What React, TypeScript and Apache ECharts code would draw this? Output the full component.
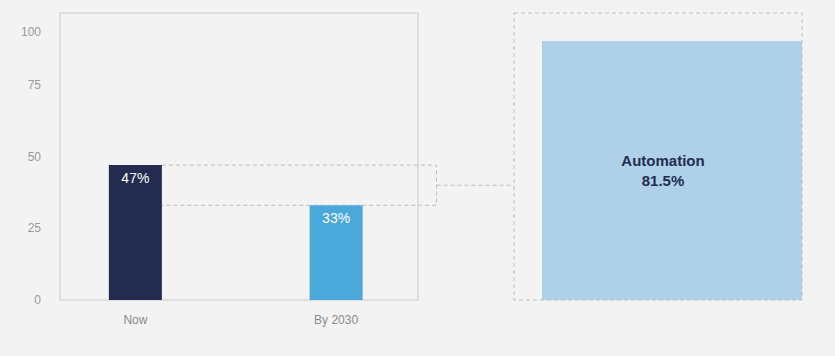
import React, { useEffect, useRef } from "react";
import * as echarts from "echarts";

const categories = ["Now", "By 2030"];
const values = [47, 33];
const barColors = ["#232b50", "#4aa8db"];
const yTicks = [0, 25, 50, 75, 100];
const shareLabel = "Automation";
const shareValue = [81.5];

const FONT = "'Helvetica Neue', Helvetica, 'Liberation Sans', Arial, sans-serif";
const DASH = "#bdbdbd";

export default function App() {
  const ref = useRef<HTMLDivElement>(null);
  useEffect(() => {
    if (!ref.current) return;
    const chart = echarts.init(ref.current, null, { renderer: "svg" });
    const BAR_W = 53;
    const connectorGap = 514 - 436.5;
    chart.setOption({
      animation: false,
      backgroundColor: "#f3f3f3",
      textStyle: { fontFamily: FONT },
      grid: [
        { show: true, left: 60, top: 13, width: 358, height: 287, borderColor: "#c9c9c9", borderWidth: 1, backgroundColor: "transparent" },
        { left: 35, top: 13, width: 401.5, height: 287 },
        { left: 514, top: 13, width: 288, height: 287 },
      ],
      xAxis: [
        { gridIndex: 0, type: "value", min: 0, max: 1, show: false },
        {
          gridIndex: 1,
          type: "category",
          data: categories,
          axisLine: { show: false },
          axisTick: { show: false },
          axisLabel: { color: "#8a8a8a", fontSize: 12, margin: 14 },
        },
        { gridIndex: 2, type: "value", min: 0, max: 1, show: false },
      ],
      yAxis: [
        {
          gridIndex: 0,
          type: "value",
          min: yTicks[0],
          max: yTicks[yTicks.length - 1],
          interval: 25,
          splitLine: { show: false },
          axisLine: { show: false },
          axisTick: { show: false },
          axisLabel: {
            color: "#9a9a9a",
            fontSize: 12,
            margin: 19,
            formatter: (v: number) => (v === 100 ? "{top|100}" : String(v)),
            rich: { top: { color: "#9a9a9a", fontSize: 12, padding: [38, 0, 0, 0] } },
          },
        },
        { gridIndex: 1, type: "value", min: 0, max: 100, show: false },
        { gridIndex: 2, type: "value", min: 0, max: 1, show: false },
      ],
      series: [
        {
          type: "bar",
          xAxisIndex: 1,
          yAxisIndex: 1,
          barWidth: BAR_W,
          data: values.map((v, i) => ({ value: v, itemStyle: { color: barColors[i] } })),
          label: {
            show: true,
            position: "insideTop",
            distance: 6,
            color: "#ffffff",
            fontSize: 14,
            formatter: (p: any) => `${p.value}%`,
          },
        },
        {
          type: "custom",
          xAxisIndex: 1,
          yAxisIndex: 1,
          data: [[0, values[0], values[1]]],
          encode: { x: 0, y: [1, 2] },
          silent: true,
          z: 1,
          renderItem: (params: any, api: any) => {
            const cs = params.coordSys;
            const a = api.coord([api.value(0), api.value(1)]);
            const b = api.coord([api.value(0), api.value(2)]);
            const left = a[0] + BAR_W / 2;
            const right = cs.x + cs.width;
            const mid = (a[1] + b[1]) / 2;
            const style = { stroke: DASH, lineWidth: 1, lineDash: [4, 3], fill: "none" };
            return {
              type: "group",
              children: [
                { type: "polyline", shape: { points: [[left, a[1]], [right, a[1]], [right, b[1]], [left, b[1]]] }, style },
                { type: "line", shape: { x1: right, y1: mid, x2: right + connectorGap, y2: mid }, style },
              ],
            };
          },
        },
        {
          type: "custom",
          xAxisIndex: 2,
          yAxisIndex: 2,
          data: [shareValue],
          silent: true,
          renderItem: (params: any, api: any) => {
            const share = api.value(0) / 100;
            const s = Math.sqrt(share);
            const o0 = api.coord([0, 1]);
            const o1 = api.coord([1, 0]);
            const i0 = api.coord([1 - s, s]);
            const cx = (i0[0] + o1[0]) / 2 - 9;
            const cy = (i0[1] + o1[1]) / 2;
            return {
              type: "group",
              children: [
                {
                  type: "rect",
                  shape: { x: i0[0], y: i0[1], width: o1[0] - i0[0], height: o1[1] - i0[1] },
                  style: { fill: "#aed1e9" },
                },
                {
                  type: "rect",
                  shape: { x: o0[0], y: o0[1], width: o1[0] - o0[0], height: o1[1] - o0[1] },
                  style: { fill: "none", stroke: DASH, lineWidth: 1, lineDash: [4, 3] },
                },
                {
                  type: "text",
                  x: cx,
                  y: cy,
                  style: {
                    text: `${shareLabel}\n${api.value(0)}%`,
                    fill: "#232b50",
                    fontSize: 15,
                    fontWeight: "bold",
                    fontFamily: FONT,
                    lineHeight: 20,
                    align: "center",
                    verticalAlign: "middle",
                  },
                },
              ],
            };
          },
        },
      ],
    });
    return () => chart.dispose();
  }, []);
  return (
    <div
      ref={ref}
      style={{ position: "fixed", left: 0, top: 0, width: 835, height: 356, background: "#f3f3f3" }}
    />
  );
}
